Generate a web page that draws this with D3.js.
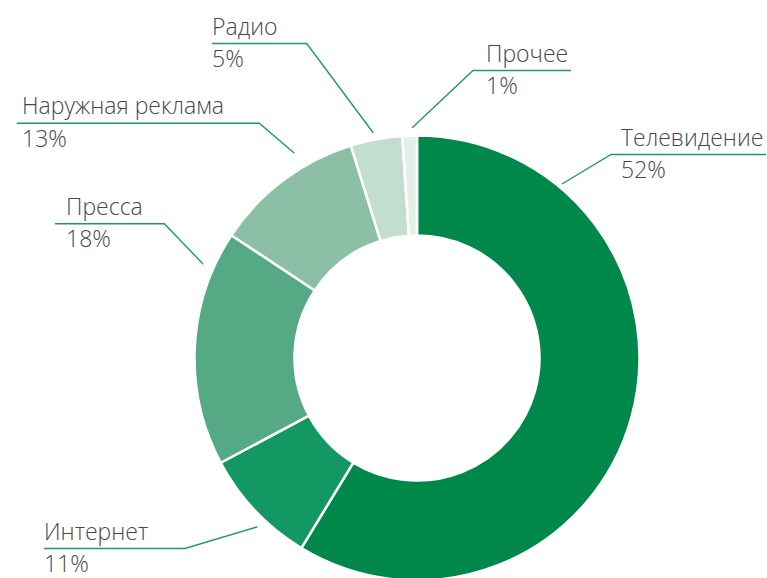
<!DOCTYPE html>
<html>
<head>
<meta charset="utf-8">
<script src="https://cdn.jsdelivr.net/npm/d3@7"></script>
<style>
  html, body { margin: 0; padding: 0; background: #ffffff; }
  svg { display: block; }
</style>
</head>
<body>
<script>
// ---- data ----
const categories = ["Телевидение", "Интернет", "Пресса", "Наружная реклама", "Радио", "Прочее"];
const shares = [58.7, 8.5, 17.1, 10.9, 3.75, 1.05];
// percentages as printed in labels
const labelPercents = ["52%", "11%", "18%", "13%", "5%", "1%"];
const colors = ["#00874a", "#139763", "#56a985", "#8cc0a6", "#c3decf", "#e2f0e8"];

// ---- label layout (annotation positions) ----
// side: which end of the underline the leader starts; angle/radius: leader tip on the ring
const labelLayout = [
  { textX: 621, lineY: 154.5, x1: 611, x2: 766, side: "left",  angle: 39.8,  rad: 226.5 },
  { textX: 44,  lineY: 548.5, x1: 44,  x2: 185, side: "right", angle: 223.4, rad: 232.3 },
  { textX: 66,  lineY: 223.7, x1: 55,  x2: 164.3, side: "right", angle: 293.7, rad: 233.5 },
  { textX: 22,  lineY: 123.3, x1: 16.7, x2: 259.3, side: "right", angle: 329.1, rad: 238.7 },
  { textX: 212, lineY: 43.5,  x1: 212, x2: 306.7, side: "right", angle: 349.0, rad: 229.5 },
  { textX: 486, lineY: 70.5,  x1: 473, x2: 571, side: "left",  angle: 358.8, rad: 230.3 }
];

const W = 767, H = 578;
const cx = 417, cy = 358, R = 222.5, r0 = 122.5;

const svg = d3.select("body").append("svg")
  .attr("width", W).attr("height", H);

const g = svg.append("g").attr("transform", `translate(${cx},${cy})`);

const pie = d3.pie().value(d => d).sort(null);
const arc = d3.arc().innerRadius(r0).outerRadius(R);

g.selectAll("path.slice")
  .data(pie(shares))
  .join("path")
  .attr("class", "slice")
  .attr("d", arc)
  .attr("fill", (d, i) => colors[i])
  .attr("stroke", "#ffffff")
  .attr("stroke-width", 2.5)
  .attr("stroke-linejoin", "round");

// ---- labels ----
const lineColor = "#1f9a63";
const textColor = "#474747";
const lab = svg.append("g");

labelLayout.forEach((L, i) => {
  const a = L.angle * Math.PI / 180;
  const tipX = cx + L.rad * Math.sin(a);
  const tipY = cy - L.rad * Math.cos(a);
  const elbowX = L.side === "left" ? L.x1 : L.x2;
  const otherX = L.side === "left" ? L.x2 : L.x1;
  lab.append("polyline")
    .attr("points", `${otherX},${L.lineY} ${elbowX},${L.lineY} ${tipX},${tipY}`)
    .attr("fill", "none")
    .attr("stroke", lineColor)
    .attr("stroke-width", 1.4);
  lab.append("text")
    .attr("x", L.textX).attr("y", L.lineY - 9)
    .attr("font-family", "'Open Sans', sans-serif")
    .attr("font-weight", 300)
    .attr("font-size", 23)
    .attr("fill", textColor)
    .text(categories[i]);
  lab.append("text")
    .attr("x", L.textX).attr("y", L.lineY + 23.5)
    .attr("font-family", "'Open Sans', sans-serif")
    .attr("font-weight", 300)
    .attr("font-size", 23)
    .attr("fill", textColor)
    .text(labelPercents[i]);
});
</script>
</body>
</html>
